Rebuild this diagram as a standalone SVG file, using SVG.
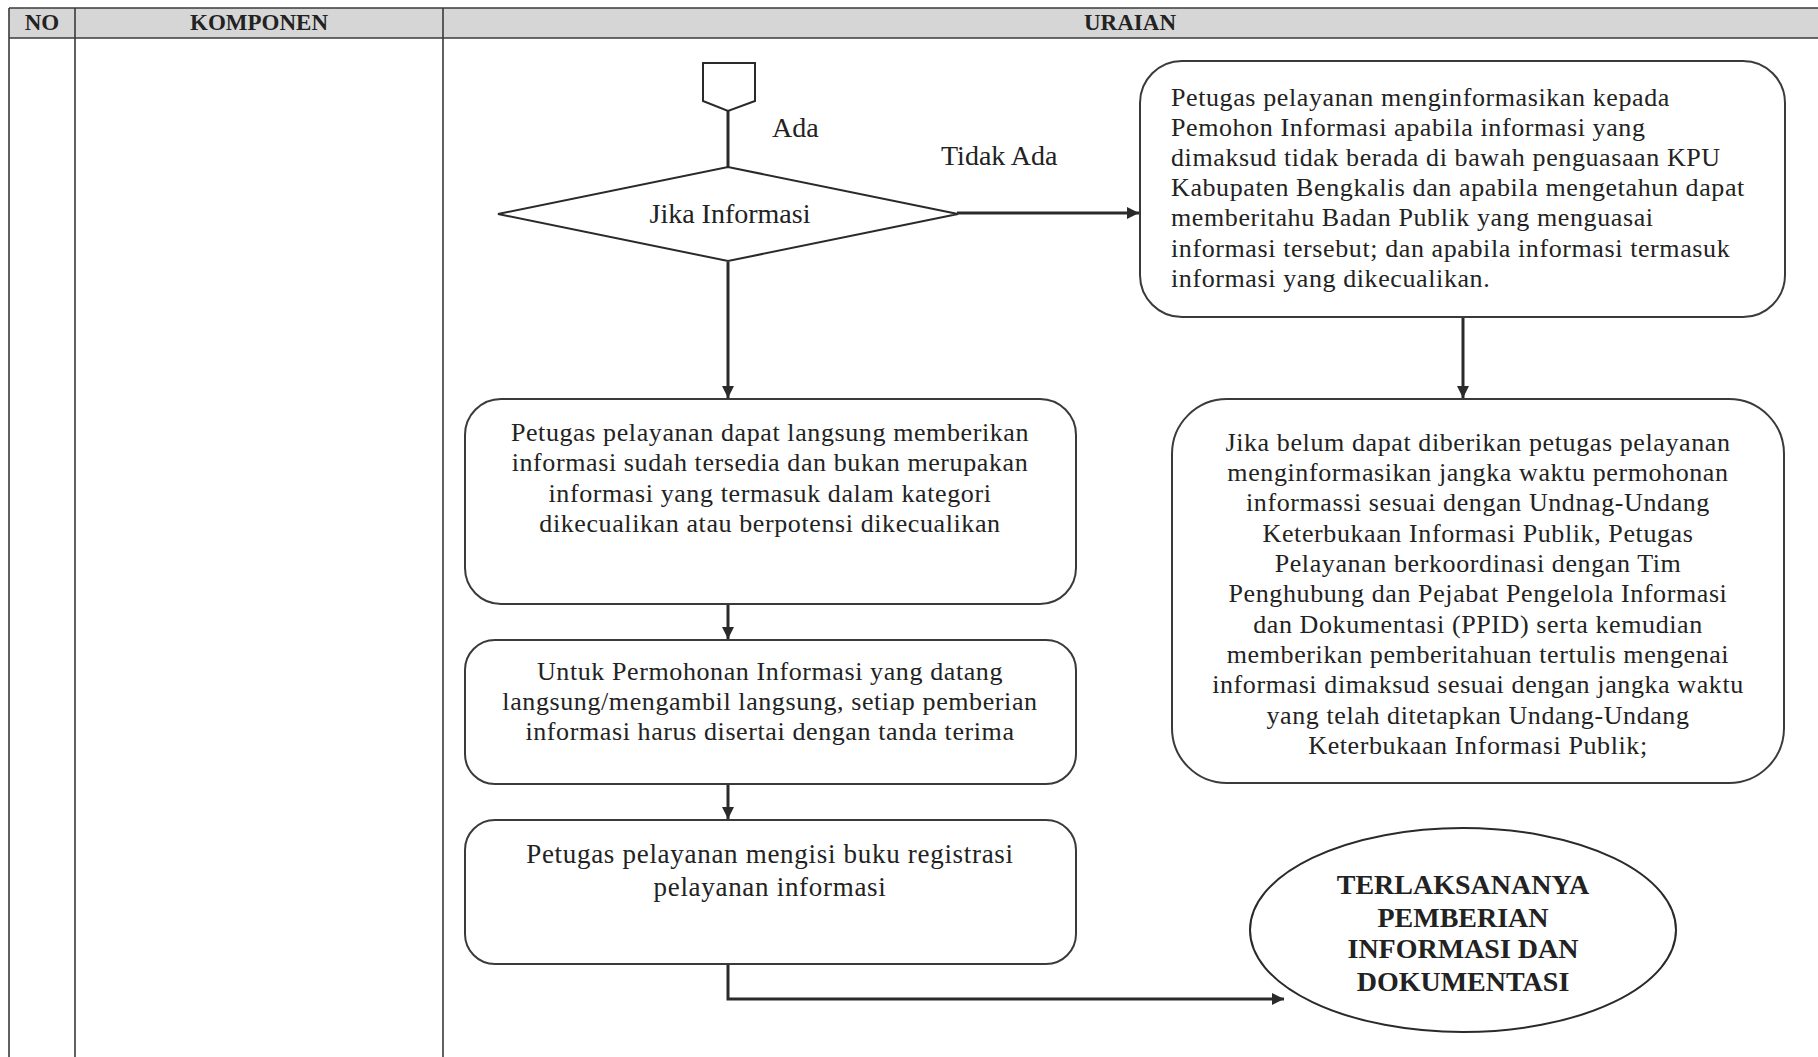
<svg xmlns="http://www.w3.org/2000/svg" width="1818" height="1057" viewBox="0 0 1818 1057">
<style>
.grid{stroke:#3a3a3a;stroke-width:1.6;fill:none}
.hdr{font-family:"Liberation Serif",serif;font-weight:bold;font-size:23px;fill:#222;text-anchor:middle}
.box{fill:#fff;stroke:#3a3a3a;stroke-width:2}
.shape{fill:#fff;stroke:#2a2a2a;stroke-width:2}
.body{font-family:"Liberation Serif",serif;font-size:26px;letter-spacing:0.6px;fill:#222}
.mid{text-anchor:middle}
.lbl{font-family:"Liberation Serif",serif;font-size:28px;fill:#222}
.end{font-family:"Liberation Serif",serif;font-weight:bold;font-size:28px;fill:#222;text-anchor:middle}
.conn{stroke:#2a2a2a;stroke-width:3;fill:none}
</style>
<defs>
<marker id="arr" viewBox="0 0 10 10" refX="10" refY="5" markerWidth="14" markerHeight="12" markerUnits="userSpaceOnUse" orient="auto">
<path d="M0,0 L10,5 L0,10 z" fill="#2a2a2a"/>
</marker>
</defs>
<rect width="1818" height="1057" fill="#fff"/>
<g id="table">
<rect x="9" y="8" width="1812" height="30" fill="#d6d6d6"/>
<line class="grid" x1="9" y1="8" x2="1818" y2="8" stroke-width="2.5"/>
<line class="grid" x1="9" y1="38" x2="1818" y2="38" stroke-width="2.5"/>
<line class="grid" x1="9" y1="8" x2="9" y2="1057"/>
<line class="grid" x1="75" y1="8" x2="75" y2="1057"/>
<line class="grid" x1="443" y1="8" x2="443" y2="1057"/>
<text class="hdr" x="42" y="30">NO</text>
<text class="hdr" x="259" y="30">KOMPONEN</text>
<text class="hdr" x="1130" y="30">URAIAN</text>
</g>
<g id="connectors">
<line class="conn" x1="728" y1="111" x2="728" y2="167"/>
<line class="conn" x1="957" y1="213" x2="1139" y2="213" marker-end="url(#arr)"/>
<line class="conn" x1="728" y1="262" x2="728" y2="398" marker-end="url(#arr)"/>
<line class="conn" x1="1463" y1="317" x2="1463" y2="398" marker-end="url(#arr)"/>
<line class="conn" x1="728" y1="604" x2="728" y2="639" marker-end="url(#arr)"/>
<line class="conn" x1="728" y1="784" x2="728" y2="819" marker-end="url(#arr)"/>
<polyline class="conn" points="728,964 728,999 1284,999" marker-end="url(#arr)"/>
<text class="lbl" x="772" y="137">Ada</text>
<text class="lbl" x="941" y="165">Tidak Ada</text>
</g>
<g id="connector-start">
<polygon class="shape" points="703,63 755,63 755,101 728,111 703,101"/>
</g>
<g id="decision">
<polygon class="shape" stroke-width="1.8" points="498,214 728,167 958,214 728,261"/>
<text class="lbl mid" x="730" y="223" text-anchor="middle">Jika Informasi</text>
</g>
<g id="box-tidak-ada">
<rect class="box" x="1140" y="61" width="645" height="256" rx="42"/>
<text class="body" x="1171" y="106">Petugas pelayanan menginformasikan kepada</text>
<text class="body" x="1171" y="136">Pemohon Informasi apabila informasi yang</text>
<text class="body" x="1171" y="166">dimaksud tidak berada di bawah penguasaan KPU</text>
<text class="body" x="1171" y="196">Kabupaten Bengkalis dan apabila mengetahun dapat</text>
<text class="body" x="1171" y="226">memberitahu Badan Publik yang menguasai</text>
<text class="body" x="1171" y="257">informasi tersebut; dan apabila informasi termasuk</text>
<text class="body" x="1171" y="287">informasi yang dikecualikan.</text>
</g>
<g id="box-belum">
<rect class="box" x="1172" y="399" width="612" height="384" rx="55"/>
<text class="body mid" x="1478" y="451">Jika belum dapat diberikan petugas pelayanan</text>
<text class="body mid" x="1478" y="481">menginformasikan jangka waktu permohonan</text>
<text class="body mid" x="1478" y="511">informassi sesuai dengan Undnag-Undang</text>
<text class="body mid" x="1478" y="542">Keterbukaan Informasi Publik, Petugas</text>
<text class="body mid" x="1478" y="572">Pelayanan berkoordinasi dengan Tim</text>
<text class="body mid" x="1478" y="602">Penghubung dan Pejabat Pengelola Informasi</text>
<text class="body mid" x="1478" y="633">dan Dokumentasi (PPID) serta kemudian</text>
<text class="body mid" x="1478" y="663">memberikan pemberitahuan tertulis mengenai</text>
<text class="body mid" x="1478" y="693">informasi dimaksud sesuai dengan jangka waktu</text>
<text class="body mid" x="1478" y="724">yang telah ditetapkan Undang-Undang</text>
<text class="body mid" x="1478" y="754">Keterbukaan Informasi Publik;</text>
</g>
<g id="box-langsung">
<rect class="box" x="465" y="399" width="611" height="205" rx="36"/>
<text class="body mid" x="770" y="441">Petugas pelayanan dapat langsung memberikan</text>
<text class="body mid" x="770" y="471">informasi sudah tersedia dan bukan merupakan</text>
<text class="body mid" x="770" y="502">informasi yang termasuk dalam kategori</text>
<text class="body mid" x="770" y="532">dikecualikan atau berpotensi dikecualikan</text>
</g>
<g id="box-tanda-terima">
<rect class="box" x="465" y="640" width="611" height="144" rx="30"/>
<text class="body mid" x="770" y="680">Untuk Permohonan Informasi yang datang</text>
<text class="body mid" x="770" y="710">langsung/mengambil langsung, setiap pemberian</text>
<text class="body mid" x="770" y="740">informasi harus disertai dengan tanda terima</text>
</g>
<g id="box-registrasi">
<rect class="box" x="465" y="820" width="611" height="144" rx="30"/>
<text class="body mid" x="770" y="863" style="font-size:27px;letter-spacing:0.7px">Petugas pelayanan mengisi buku registrasi</text>
<text class="body mid" x="770" y="896" style="font-size:27px;letter-spacing:0.7px">pelayanan informasi</text>
</g>
<g id="end">
<ellipse class="shape" stroke-width="1.8" cx="1463" cy="930" rx="213" ry="102"/>
<text class="end" x="1463" y="894">TERLAKSANANYA</text>
<text class="end" x="1463" y="927">PEMBERIAN</text>
<text class="end" x="1463" y="958">INFORMASI DAN</text>
<text class="end" x="1463" y="991">DOKUMENTASI</text>
</g>
</svg>
